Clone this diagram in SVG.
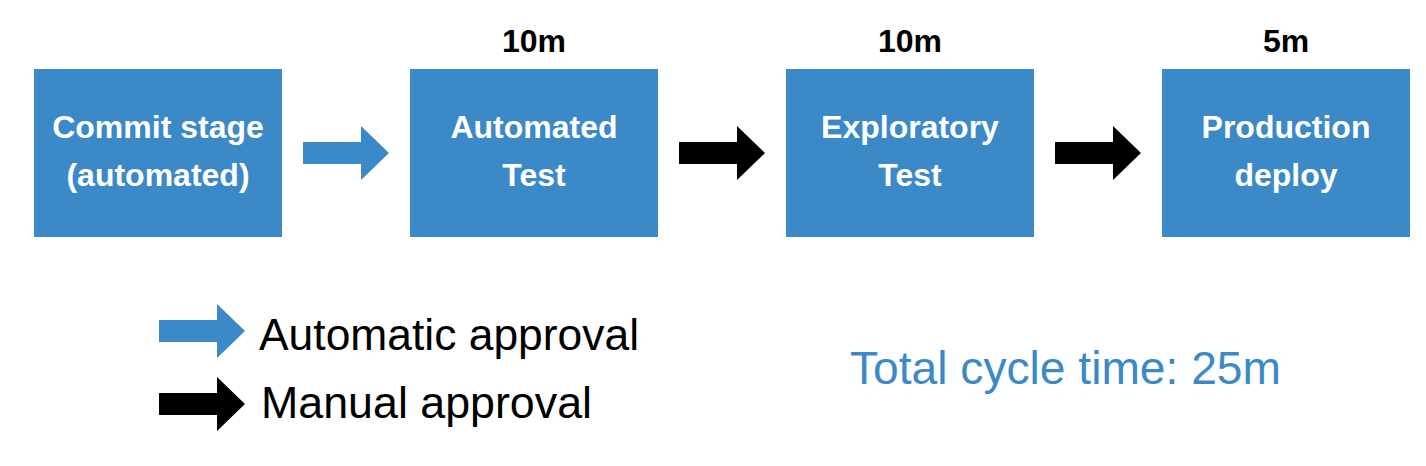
<svg xmlns="http://www.w3.org/2000/svg" width="1426" height="466" viewBox="0 0 1426 466">
<style>
.box{fill:#3b89c6;}
.bt{font-family:"Liberation Sans",Arial,sans-serif;font-weight:bold;font-size:32px;fill:#ffffff;text-anchor:middle;}
.tm{font-family:"Liberation Sans",Arial,sans-serif;font-weight:bold;font-size:32px;fill:#000000;text-anchor:middle;}
.lg{font-family:"Liberation Sans",Arial,sans-serif;font-size:45px;fill:#000000;}
.tot{font-family:"Liberation Sans",Arial,sans-serif;font-size:46px;fill:#3b89c6;}
.auto{fill:#3b89c6;}
.man{fill:#000000;}
</style>
<defs>
<path id="arr" d="M0,16 H58 V0 L86,27 L58,54 V38 H0 Z"/>
</defs>
<rect width="1426" height="466" fill="#ffffff"/>
<g id="commit">
<rect class="box" x="34" y="69" width="248" height="168"/>
<text class="bt" x="158" y="138">Commit stage</text>
<text class="bt" x="158" y="186">(automated)</text>
</g>
<g id="automated-test">
<rect class="box" x="410" y="69" width="248" height="168"/>
<text class="tm" x="534" y="52">10m</text>
<text class="bt" x="534" y="138">Automated</text>
<text class="bt" x="534" y="186">Test</text>
</g>
<g id="exploratory-test">
<rect class="box" x="786" y="69" width="248" height="168"/>
<text class="tm" x="910" y="52">10m</text>
<text class="bt" x="910" y="138">Exploratory</text>
<text class="bt" x="910" y="186">Test</text>
</g>
<g id="production-deploy">
<rect class="box" x="1162" y="69" width="248" height="168"/>
<text class="tm" x="1286" y="52">5m</text>
<text class="bt" x="1286" y="138">Production</text>
<text class="bt" x="1286" y="186">deploy</text>
</g>
<g id="connectors">
<use href="#arr" class="auto" transform="translate(303,126)"/>
<use href="#arr" class="man" transform="translate(679,126)"/>
<use href="#arr" class="man" transform="translate(1055,126)"/>
</g>
<g id="legend">
<use href="#arr" class="auto" transform="translate(159,304)"/>
<text class="lg" x="259" y="350" textLength="380" lengthAdjust="spacingAndGlyphs">Automatic approval</text>
<use href="#arr" class="man" transform="translate(159,377)"/>
<text class="lg" x="261" y="418" textLength="331" lengthAdjust="spacingAndGlyphs">Manual approval</text>
</g>
<g id="total">
<text class="tot" x="850" y="384" textLength="431" lengthAdjust="spacingAndGlyphs">Total cycle time: 25m</text>
</g>
</svg>
